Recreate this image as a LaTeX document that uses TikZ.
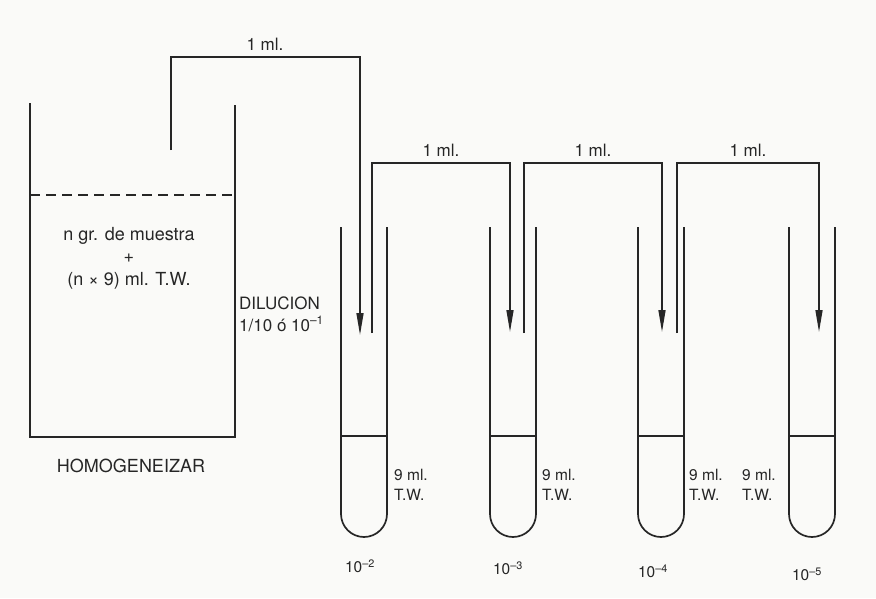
\documentclass[tikz,border=0pt]{standalone}
\usepackage{fontspec}
\setmainfont{TeX Gyre Heros}
\usepackage{tikz}
\usetikzlibrary{arrows.meta,positioning}
\usepackage{xcolor}
\definecolor{ink}{HTML}{262626}
\definecolor{paper}{HTML}{FAFAF8}
\tikzset{vessel/.style={draw=ink,line width=1.7pt}, surface/.style={draw=ink,line width=2.3pt,dash pattern=on 10pt off 6pt}, level/.style={draw=ink,line width=2.2pt}, pipette/.style={draw=ink,line width=1.5pt,-{Triangle[length=22pt,width=7pt]}}, note/.style={text=ink,font=\fontsize{15.5}{20}\selectfont,inner sep=1pt}, bignote/.style={note,font=\fontsize{18}{22.5}\selectfont}, dosenote/.style={note,font=\fontsize{17}{20}\selectfont}}
\begin{document}
\begin{tikzpicture}[x=1pt,y=-1pt]
\useasboundingbox[fill=paper] (0,0) rectangle (876,598);
% beaker
\draw[vessel] (30,103) -- (30,437) -- (235,437) -- (235,105);
\draw[surface] (30,195) -- (235,195);
\node[bignote,align=center] (sample) at (129,258) {n gr. de muestra\\+\\(n × 9) ml. T.W.};
\node[bignote] (homog) at (131,466) {HOMOGENEIZAR};
\node[note,font=\fontsize{17}{22}\selectfont,anchor=west,align=left] (dil) at (238,314) {DILUCION\\1/10 ó 10\textsuperscript{–1}};
% tubes
\draw[vessel] (341,227) -- (341,514) arc[start angle=180,end angle=0,radius=23] -- (387,227);
\draw[vessel] (490,227) -- (490,514) arc[start angle=180,end angle=0,radius=23] -- (536,227);
\draw[vessel] (638,227) -- (638,514) arc[start angle=180,end angle=0,radius=23] -- (684,227);
\draw[vessel] (789,227) -- (789,514) arc[start angle=180,end angle=0,radius=23] -- (835,227);
\draw[level] (341,436) -- (387,436);\draw[level] (490,436) -- (536,436);
\draw[level] (638,436) -- (684,436);\draw[level] (789,436) -- (835,436);
\node[note,anchor=west,align=left] (tw2) at (393,485) {9 ml.\\T.W.};
\node[note,anchor=west,align=left] (tw3) at (541,485) {9 ml.\\T.W.};
\node[note,anchor=west,align=left] (tw4) at (688,485) {9 ml.\\T.W.};
\node[note,anchor=west,align=left] (tw5) at (741,485) {9 ml.\\T.W.};
\node[note] (d2) at (360,566) {10\textsuperscript{–2}};
\node[note] (d3) at (508,568) {10\textsuperscript{–3}};
\node[note] (d4) at (653,571) {10\textsuperscript{–4}};
\node[note] (d5) at (807,574) {10\textsuperscript{–5}};
% pipettes
\coordinate (s1) at (171,150); \coordinate (t1) at (265,57); \coordinate (e1) at (360,335);
\coordinate (s2) at (372,333); \coordinate (t2) at (441,163); \coordinate (e2) at (510,332);
\coordinate (s3) at (524,333); \coordinate (t3) at (593,163); \coordinate (e3) at (662,332);
\coordinate (s4) at (677,333); \coordinate (t4) at (748,163); \coordinate (e4) at (819,332);
\draw[pipette] (s1) |- (t1) -| (e1);\node[dosenote,above=5pt of t1] (ml1) {1 ml.};
\draw[pipette] (s2) |- (t2) -| (e2);\node[dosenote,above=5pt of t2] (ml2) {1 ml.};
\draw[pipette] (s3) |- (t3) -| (e3);\node[dosenote,above=5pt of t3] (ml3) {1 ml.};
\draw[pipette] (s4) |- (t4) -| (e4);\node[dosenote,above=5pt of t4] (ml4) {1 ml.};
\end{tikzpicture}
\end{document}
